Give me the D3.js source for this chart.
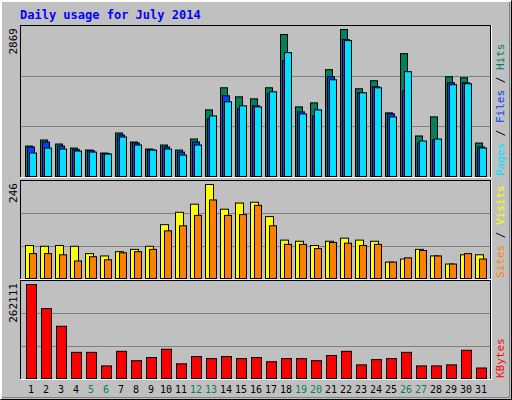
<!DOCTYPE html>
<html><head><meta charset="utf-8">
<script src="https://cdn.jsdelivr.net/npm/d3@7"></script>
<style>body{margin:0;background:#fff}</style></head>
<body><svg id="c" width="512" height="400"></svg>
<script>
const days = d3.range(1,32);
const weekendDays = [5,6,12,13,19,20,26,27];
const hits = [610,727,649,571,532,474,863,688,552,630,532,746,1311,1739,1564,1525,1739,2771,1369,1447,2090,2869,1720,1876,1253,2401,805,1175,1953,1934,668];
const files = [591,688,610,539,519,467,824,668,539,591,493,688,1136,1584,1330,1389,1623,2265,1272,1194,1953,2674,1642,1759,1233,1681,668,727,1837,1837,591];
const pages = [474,571,552,513,493,454,785,630,532,552,435,630,1194,1467,1389,1369,1661,2421,1233,1311,1895,2654,1642,1739,1175,2051,707,746,1798,1817,571];
const sites = [88,86,88,86,67,61,72,78,86,142,174,195,246,182,198,200,163,102,99,88,99,107,102,99,45,53,78,61,40,64,64];
const visits = [67,67,64,48,59,51,69,72,78,126,139,166,206,166,168,192,139,91,91,80,96,94,88,91,45,56,75,61,40,67,53];
const kbytes = [262111,195860,146895,74888,74888,37444,77768,51845,60486,83529,43205,63367,57606,63367,57606,60486,48965,57606,57606,51845,66247,77768,40324,54726,57606,74888,37444,37444,40324,80648,31683];
const maxLabels = ["2869","246","262111"];

const svg = d3.select("#c");
const font = "'DejaVu Sans Mono', monospace";
// outer frame
svg.append("rect").attr("x",0).attr("y",0).attr("width",512).attr("height",400).attr("fill","#c0c0c0");
svg.append("path").attr("d","M0.5,399.5V0.5H511.5").attr("stroke","#fff").attr("fill","none");
svg.append("path").attr("d","M1.5,398.5V1.5H510.5").attr("stroke","#fff").attr("fill","none");
svg.append("path").attr("d","M0.5,399.5H511.5V0.5").attr("stroke","#000").attr("fill","none");
svg.append("path").attr("d","M2,397.5H509.5V2").attr("stroke","#808080").attr("fill","none");
svg.append("text").attr("x",20).attr("y",19).attr("fill","#0000ff").attr("font-family",font)
  .attr("font-weight","bold").attr("font-size",12).text("Daily usage for July 2014");

const x = d3.scaleLinear().domain([1,31]).range([25,475]);
const panels = [{top:25,bot:177},{top:180,bot:279},{top:280,bot:379}];
panels.forEach(p=>{
  svg.append("rect").attr("x",20.5).attr("y",p.top+0.5).attr("width",470).attr("height",p.bot-p.top).attr("fill","#c0c0c0").attr("stroke","#000");
  svg.append("path").attr("d",`M491.5,${p.top}V${p.bot+0.5}H20`).attr("stroke","#fff").attr("fill","none");
  const h=(p.bot-p.top)/3;
  [1,2].forEach(k=>svg.append("line").attr("x1",21).attr("x2",490).attr("y1",Math.round(p.top+h*k)+0.5).attr("y2",Math.round(p.top+h*k)+0.5).attr("stroke","#808080"));
});
function bars(vals, max, p, off, w, color){
  const y = d3.scaleLinear().domain([0,max]).range([p.bot,p.top+4]);
  svg.append("g").selectAll("rect").data(vals).join("rect")
    .attr("x",(d,i)=>x(days[i])+off+0.5).attr("y",d=>y(d)+0.5)
    .attr("width",w).attr("height",d=>p.bot-y(d)-1).attr("fill",color).attr("stroke","#000");
}
bars(hits,2869,panels[0],0,7,"#00805c");
bars(files,2869,panels[0],2,7,"#0040ff");
bars(pages,2869,panels[0],4,7,"#00e0ff");
bars(sites,246,panels[1],0,8,"#ffff00");
bars(visits,246,panels[1],4,7,"#ff8000");
bars(kbytes,262111,panels[2],1,10,"#ff0000");

// left max labels
maxLabels.forEach((t,i)=>{
  svg.append("text").attr("transform",`translate(17,${panels[i].top+3}) rotate(-90)`).attr("text-anchor","end")
    .attr("font-family",font).attr("font-size",11).attr("fill","#000").text(t);
});
// right legends
function legend(p, parts){
  const t = svg.append("text").attr("transform",`translate(504,${p.bot-1}) rotate(-90)`)
    .attr("font-family",font).attr("font-size",11);
  parts.forEach(([s,c])=>t.append("tspan").attr("fill",c).text(s));
}
legend(panels[0],[["Pages","#00e0ff"],[" / ","#000"],["Files","#0040ff"],[" / ","#000"],["Hits","#00805c"]]);
legend(panels[1],[["Sites","#ff8000"],[" / ","#000"],["Visits","#ffff00"]]);
legend(panels[2],[["KBytes","#ff0000"]]);
// day labels
svg.append("g").selectAll("text").data(days).join("text")
  .attr("x",d=>x(d)+6).attr("y",393).attr("text-anchor","middle")
  .attr("font-family",font).attr("font-size",10)
  .attr("fill",d=>weekendDays.includes(d)?"#00805c":"#000").text(d=>d);
</script></body></html>
